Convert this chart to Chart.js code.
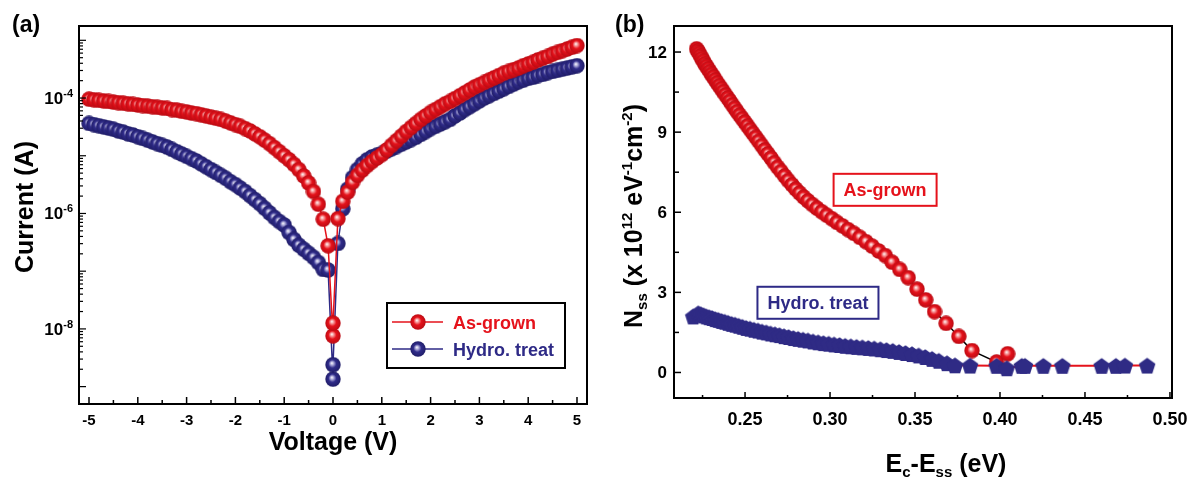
<!DOCTYPE html>
<html>
<head>
<meta charset="utf-8">
<script src="https://cdn.jsdelivr.net/npm/chart.js@4.4.0/dist/chart.umd.min.js"></script>
<style>
  html, body { margin: 0; padding: 0; background: #fff; }
  #wrap { position: relative; width: 1197px; height: 484px; }
  #left { position: absolute; left: 0; top: 0; }
  #right { position: absolute; left: 600px; top: 0; }
</style>
</head>
<body>
<div id="wrap">
  <canvas id="left" width="600" height="484"></canvas>
  <canvas id="right" width="597" height="484"></canvas>
</div>
<script>
// ---- (a) I-V data (log10 of current) ----
var voltage = [
  -5.0, -4.9, -4.8, -4.7, -4.6, -4.5, -4.4, -4.3, -4.2, -4.1,
  -4.0, -3.9, -3.8, -3.7, -3.6, -3.5, -3.4, -3.3, -3.2, -3.1,
  -3.0, -2.9, -2.8, -2.7, -2.6, -2.5, -2.4, -2.3, -2.2, -2.1,
  -2.0, -1.9, -1.8, -1.7, -1.6, -1.5, -1.4, -1.3, -1.2, -1.1,
  -1.0, -0.9, -0.8, -0.7, -0.6, -0.5, -0.4, -0.3, -0.2, -0.1,
  0.0, 0.0,
  0.1, 0.2, 0.3, 0.4, 0.5, 0.6, 0.7, 0.8, 0.9, 1.0,
  1.1, 1.2, 1.3, 1.4, 1.5, 1.6, 1.7, 1.8, 1.9, 2.0,
  2.1, 2.2, 2.3, 2.4, 2.5, 2.6, 2.7, 2.8, 2.9, 3.0,
  3.1, 3.2, 3.3, 3.4, 3.5, 3.6, 3.7, 3.8, 3.9, 4.0,
  4.1, 4.2, 4.3, 4.4, 4.5, 4.6, 4.7, 4.8, 4.9, 5.0
];
var asGrownLogI = [
  -4.02, -4.03, -4.04, -4.05, -4.06, -4.07, -4.08, -4.09, -4.10, -4.11,
  -4.12, -4.13, -4.14, -4.15, -4.16, -4.17, -4.18, -4.20, -4.21, -4.23,
  -4.24, -4.26, -4.27, -4.29, -4.31, -4.33, -4.35, -4.37, -4.40, -4.43,
  -4.46, -4.49, -4.53, -4.57, -4.62, -4.67, -4.73, -4.79, -4.86, -4.93,
  -5.00, -5.07, -5.15, -5.24, -5.35, -5.47, -5.62, -5.84, -6.10, -6.56,
  -8.12, -7.90,
  -6.09, -5.79, -5.63, -5.46, -5.34, -5.25, -5.17, -5.10, -5.04, -4.98,
  -4.90, -4.82, -4.74, -4.66, -4.58, -4.51, -4.44, -4.37, -4.31, -4.25,
  -4.20, -4.15, -4.10, -4.06, -4.01, -3.96, -3.91, -3.86, -3.81, -3.77,
  -3.73, -3.69, -3.65, -3.61, -3.57, -3.54, -3.51, -3.48, -3.44, -3.41,
  -3.38, -3.34, -3.31, -3.28, -3.24, -3.21, -3.18, -3.15, -3.12, -3.09
];
var hydroLogI = [
  -4.44, -4.46, -4.48, -4.50, -4.52, -4.54, -4.57, -4.59, -4.62, -4.64,
  -4.67, -4.70, -4.73, -4.76, -4.79, -4.82, -4.85, -4.89, -4.93, -4.97,
  -5.01, -5.05, -5.09, -5.14, -5.19, -5.24, -5.29, -5.34, -5.39, -5.45,
  -5.50, -5.56, -5.62, -5.69, -5.76, -5.83, -5.91, -5.99, -6.07, -6.14,
  -6.20, -6.33, -6.45, -6.55, -6.62, -6.69, -6.76, -6.85, -6.97, -6.98,
  -8.87, -8.62,
  -6.52, -5.92, -5.58, -5.38, -5.24, -5.14, -5.07, -5.02, -4.99, -4.96,
  -4.92, -4.88, -4.84, -4.80, -4.76, -4.72, -4.68, -4.63, -4.58, -4.53,
  -4.49, -4.45, -4.41, -4.37, -4.31, -4.26, -4.20, -4.15, -4.10, -4.05,
  -4.00, -3.96, -3.92, -3.88, -3.84, -3.80, -3.76, -3.72, -3.69, -3.66,
  -3.64, -3.61, -3.59, -3.56, -3.54, -3.52, -3.50, -3.48, -3.46, -3.44
];

// ---- (b) Nss vs Ec-Ess ----
var asGrownE = [
  0.2215, 0.2222, 0.2230, 0.2238, 0.2246, 0.2255, 0.2264, 0.2273, 0.2283, 0.2293,
  0.2303, 0.2314, 0.2325, 0.2336, 0.2348, 0.2360, 0.2372, 0.2385, 0.2398, 0.2411,
  0.2425, 0.2439, 0.2453, 0.2468, 0.2483, 0.2498, 0.2514, 0.2530, 0.2546, 0.2563,
  0.2580, 0.2598, 0.2616, 0.2634, 0.2653, 0.2672, 0.2692, 0.2712, 0.2733, 0.2754,
  0.2776, 0.2798, 0.2821, 0.2845, 0.2870, 0.2896, 0.2923, 0.2951, 0.2980, 0.3010,
  0.3041, 0.3073, 0.3106, 0.3140, 0.3175, 0.3211, 0.3248, 0.3286, 0.3325, 0.3365,
  0.3410, 0.3460, 0.3512, 0.3563, 0.3615, 0.3683, 0.3758, 0.3835, 0.3980, 0.4045
];
var asGrownN = [
  12.12, 12.04, 11.95, 11.86, 11.76, 11.66, 11.56, 11.47, 11.37, 11.27,
  11.17, 11.07, 10.96, 10.85, 10.74, 10.63, 10.52, 10.40, 10.28, 10.16,
  10.03, 9.90, 9.77, 9.64, 9.51, 9.38, 9.24, 9.10, 8.96, 8.81,
  8.66, 8.50, 8.34, 8.19, 8.03, 7.86, 7.69, 7.53, 7.36, 7.19,
  7.03, 6.87, 6.72, 6.57, 6.43, 6.29, 6.15, 6.02, 5.89, 5.76,
  5.62, 5.49, 5.35, 5.21, 5.06, 4.90, 4.73, 4.55, 4.38, 4.13,
  3.86, 3.55, 3.12, 2.72, 2.28, 1.84, 1.35, 0.82, 0.39, 0.70
];
var hydroE = [
  0.2195, 0.2225, 0.2240, 0.2256, 0.2272, 0.2289, 0.2306, 0.2324, 0.2342, 0.2361,
  0.2380, 0.2400, 0.2420, 0.2441, 0.2462, 0.2484, 0.2506, 0.2529, 0.2552, 0.2576,
  0.2600, 0.2625, 0.2650, 0.2676, 0.2702, 0.2729, 0.2756, 0.2784, 0.2812, 0.2841,
  0.2870, 0.2900, 0.2930, 0.2961, 0.2992, 0.3024, 0.3056, 0.3089, 0.3122, 0.3156,
  0.3190, 0.3225, 0.3260, 0.3296, 0.3332, 0.3369, 0.3406, 0.3444, 0.3482, 0.3521,
  0.3560, 0.3600, 0.3640, 0.3688, 0.3735, 0.3824, 0.3980, 0.4040, 0.4128, 0.4147,
  0.4255, 0.4367, 0.4598, 0.4682, 0.4735, 0.4866
];
var hydroN = [
  2.10, 2.22, 2.18, 2.14, 2.10, 2.07, 2.04, 2.00, 1.97, 1.93,
  1.90, 1.86, 1.82, 1.79, 1.75, 1.71, 1.67, 1.64, 1.60, 1.57,
  1.53, 1.50, 1.46, 1.43, 1.40, 1.36, 1.33, 1.29, 1.26, 1.23,
  1.20, 1.16, 1.13, 1.10, 1.08, 1.05, 1.03, 1.00, 0.98, 0.96,
  0.94, 0.92, 0.90, 0.87, 0.84, 0.81, 0.77, 0.73, 0.69, 0.64,
  0.58, 0.51, 0.44, 0.35, 0.27, 0.26, 0.25, 0.16, 0.25, 0.25,
  0.25, 0.25, 0.25, 0.25, 0.26, 0.26
];

// ---- ticks ----
var ivTicksX = [-5, -4, -3, -2, -1, 0, 1, 2, 3, 4, 5];
var ivMinorX = [-4.5, -3.5, -2.5, -1.5, -0.5, 0.5, 1.5, 2.5, 3.5, 4.5];
var ivDecades = [1e-9, 1e-8, 1e-7, 1e-6, 1e-5, 1e-4, 1e-3];
var ivLabelDecades = [1e-8, 1e-6, 1e-4];
var ivLabelExp = ['-8', '-6', '-4'];
var nssTicksX = [0.25, 0.30, 0.35, 0.40, 0.45, 0.50];
var nssTickLabelsX = ['0.25', '0.30', '0.35', '0.40', '0.45', '0.50'];
var nssMinorX = [0.225, 0.275, 0.325, 0.375, 0.425, 0.475];
var nssTicksY = [0, 3, 6, 9, 12];
var nssMinorY = [1.5, 4.5, 7.5, 10.5];

var FONT = '"Liberation Sans", Arial, Helvetica, sans-serif';
var RED = '#e5121b';
var NAVY = '#2e2a86';

function sphere(d, light, base, dark) {
  var c = document.createElement('canvas');
  c.width = d; c.height = d;
  var g = c.getContext('2d');
  var r = d / 2;
  var grad = g.createRadialGradient(r * 0.85, r * 0.78, 0, r, r, r);
  grad.addColorStop(0, '#ffffff');
  grad.addColorStop(0.2, light);
  grad.addColorStop(0.5, base);
  grad.addColorStop(1, dark);
  g.fillStyle = grad;
  g.beginPath();
  g.arc(r, r, r - 0.3, 0, Math.PI * 2);
  g.fill();
  return c;
}

function pentagon(d, color) {
  var c = document.createElement('canvas');
  c.width = d; c.height = d;
  var g = c.getContext('2d');
  var r = d / 2, R = r - 0.3;
  g.fillStyle = color;
  g.beginPath();
  for (var i = 0; i < 5; i++) {
    var a = -Math.PI / 2 + i * 2 * Math.PI / 5;
    var px = r + R * Math.cos(a), py = r + 0.9 + R * Math.sin(a);
    if (i === 0) g.moveTo(px, py); else g.lineTo(px, py);
  }
  g.closePath();
  g.fill();
  return c;
}

var redBall = sphere(16, '#f7a3a3', '#e5121b', '#b80a12');
var blueBall = sphere(16, '#b3b1dd', '#302c8a', '#1f1c66');
var bluePent = pentagon(18, '#2f2b85');

// parts: [text, size, dy]
function richText(ctx, parts, x, y, align, angle, color) {
  ctx.save();
  ctx.translate(x, y);
  if (angle) ctx.rotate(angle);
  ctx.fillStyle = color || '#000';
  ctx.textAlign = 'left';
  ctx.textBaseline = 'alphabetic';
  var w = 0;
  parts.forEach(function (p) {
    ctx.font = 'bold ' + p[1] + 'px ' + FONT;
    w += ctx.measureText(p[0]).width;
  });
  var cx = align === 'center' ? -w / 2 : (align === 'right' ? -w : 0);
  parts.forEach(function (p) {
    ctx.font = 'bold ' + p[1] + 'px ' + FONT;
    ctx.fillText(p[0], cx, p[2] || 0);
    cx += ctx.measureText(p[0]).width;
  });
  ctx.restore();
  return w;
}

function tick(ctx, x1, y1, x2, y2) {
  ctx.beginPath();
  ctx.moveTo(x1, y1);
  ctx.lineTo(x2, y2);
  ctx.stroke();
}

var leftDecor = {
  id: 'leftDecor',
  afterDraw: function (chart) {
    var ctx = chart.ctx, a = chart.chartArea;
    var xs = chart.scales.x, ys = chart.scales.y;
    ctx.save();
    ctx.strokeStyle = '#000';
    ctx.lineWidth = 1.5;
    ivTicksX.forEach(function (v) {
      var px = xs.getPixelForValue(v);
      tick(ctx, px, a.bottom, px, a.bottom - 7);
    });
    ivMinorX.forEach(function (v) {
      var px = xs.getPixelForValue(v);
      tick(ctx, px, a.bottom, px, a.bottom - 4);
    });
    ctx.lineWidth = 1.2;
    ivDecades.forEach(function (d) {
      var py = ys.getPixelForValue(d);
      if (py > a.top && py < a.bottom) tick(ctx, a.left, py, a.left + 7, py);
      for (var m = 2; m <= 9; m++) {
        var q = ys.getPixelForValue(d * m);
        if (q > a.top + 1 && q < a.bottom - 1) tick(ctx, a.left, q, a.left + 4, q);
      }
    });
    ctx.lineWidth = 2;
    ctx.strokeRect(a.left, a.top, a.right - a.left, a.bottom - a.top);

    // tick labels
    ctx.fillStyle = '#000';
    ivTicksX.forEach(function (v) {
      richText(ctx, [[String(v), 15]], xs.getPixelForValue(v), 425, 'center');
    });
    ivLabelDecades.forEach(function (d, i) {
      richText(ctx, [['10', 17], [ivLabelExp[i], 11, -7]], a.left - 6, ys.getPixelForValue(d) + 6, 'right');
    });

    // titles
    richText(ctx, [['(a)', 23]], 12, 32, 'left');
    richText(ctx, [['Voltage (V)', 25]], 333, 450, 'center');
    richText(ctx, [['Current (A)', 25]], 33, 207, 'center', -Math.PI / 2);

    // legend
    ctx.lineWidth = 2;
    ctx.strokeStyle = '#000';
    ctx.strokeRect(387, 303, 178, 65);
    var rows = [[322, RED, redBall, 'As-grown'], [349, NAVY, blueBall, 'Hydro. treat']];
    rows.forEach(function (r) {
      ctx.strokeStyle = r[1];
      ctx.lineWidth = 1.5;
      tick(ctx, 392, r[0], 443, r[0]);
      ctx.drawImage(r[2], 418 - r[2].width / 2, r[0] - r[2].height / 2);
      richText(ctx, [[r[3], 18]], 453, r[0] + 6.5, 'left', 0, r[1]);
    });
    ctx.restore();
  }
};

var rightDecor = {
  id: 'rightDecor',
  afterDraw: function (chart) {
    var ctx = chart.ctx, a = chart.chartArea;
    var xs = chart.scales.x, ys = chart.scales.y;
    ctx.save();
    ctx.strokeStyle = '#000';
    ctx.lineWidth = 1.5;
    nssTicksX.forEach(function (v) {
      var px = xs.getPixelForValue(v);
      tick(ctx, px, a.bottom, px, a.bottom - 6);
    });
    nssMinorX.forEach(function (v) {
      var px = xs.getPixelForValue(v);
      tick(ctx, px, a.bottom, px, a.bottom - 3);
    });
    nssTicksY.forEach(function (v) {
      var py = ys.getPixelForValue(v);
      tick(ctx, a.left, py, a.left + 7, py);
    });
    nssMinorY.forEach(function (v) {
      var py = ys.getPixelForValue(v);
      tick(ctx, a.left, py, a.left + 5, py);
    });
    ctx.lineWidth = 2;
    ctx.strokeRect(a.left, a.top, a.right - a.left, a.bottom - a.top);

    nssTicksX.forEach(function (v, i) {
      richText(ctx, [[nssTickLabelsX[i], 18]], xs.getPixelForValue(v), 425, 'center');
    });
    nssTicksY.forEach(function (v) {
      richText(ctx, [[String(v), 17]], a.left - 7, ys.getPixelForValue(v) + 6, 'right');
    });

    richText(ctx, [['(b)', 23]], 15, 32, 'left');
    richText(ctx, [['E', 25], ['c', 15, 5], ['-E', 25], ['ss', 15, 5], [' (eV)', 25]], 346, 472, 'center');
    richText(ctx, [['N', 25], ['ss', 15, 5], [' (x 10', 25], ['12', 15, -10], [' eV', 25],
                   ['-1', 15, -10], ['cm', 25], ['-2', 15, -10], [')', 25]],
             42, 216, 'center', -Math.PI / 2);

    // in-plot labels
    var notes = [[0.3324, 6.84, 'As-grown', RED], [0.2929, 2.61, 'Hydro. treat', NAVY]];
    notes.forEach(function (n) {
      var cx = xs.getPixelForValue(n[0]), cy = ys.getPixelForValue(n[1]);
      ctx.font = 'bold 18px ' + FONT;
      var w = ctx.measureText(n[2]).width + 20;
      ctx.strokeStyle = n[3];
      ctx.lineWidth = 2;
      ctx.strokeRect(cx - w / 2, cy - 16, w, 32);
      richText(ctx, [[n[2], 18]], cx, cy + 6.5, 'center', 0, n[3]);
    });
    ctx.restore();
  }
};

function pairs(xs, ys) {
  return xs.map(function (x, i) { return { x: x, y: ys[i] }; });
}

var ivAsGrown = voltage.map(function (v, i) { return { x: v, y: Math.pow(10, asGrownLogI[i]) }; });
var ivHydro = voltage.map(function (v, i) { return { x: v, y: Math.pow(10, hydroLogI[i]) }; });

new Chart(document.getElementById('left'), {
  type: 'scatter',
  data: {
    datasets: [
      { label: 'As-grown', data: ivAsGrown, showLine: true, borderColor: RED, borderWidth: 1.5,
        pointStyle: redBall, pointRadius: 8, pointHoverRadius: 8, tension: 0, clip: false },
      { label: 'Hydro. treat', data: ivHydro, showLine: true, borderColor: NAVY, borderWidth: 1.5,
        pointStyle: blueBall, pointRadius: 8, pointHoverRadius: 8, tension: 0, clip: false }
    ]
  },
  options: {
    responsive: false,
    animation: false,
    devicePixelRatio: 1,
    events: [],
    layout: { padding: { left: 79, right: 13, top: 26, bottom: 80 } },
    plugins: { legend: { display: false }, tooltip: { enabled: false } },
    scales: {
      x: { type: 'linear', min: -5.205, max: 5.205, display: false },
      y: { type: 'logarithmic', min: 5.0e-10, max: 1.77e-3, display: false }
    }
  },
  plugins: [leftDecor]
});

new Chart(document.getElementById('right'), {
  type: 'scatter',
  data: {
    datasets: [
      { label: 'Hydro. treat', data: pairs(hydroE, hydroN), showLine: true, borderColor: RED, borderWidth: 2,
        pointStyle: bluePent, pointRadius: 9, pointHoverRadius: 9, tension: 0, clip: false },
      { label: 'As-grown', data: pairs(asGrownE, asGrownN), showLine: true, borderColor: '#000', borderWidth: 1.5,
        pointStyle: redBall, pointRadius: 8, pointHoverRadius: 8, tension: 0, clip: false }
    ]
  },
  options: {
    responsive: false,
    animation: false,
    devicePixelRatio: 1,
    events: [],
    layout: { padding: { left: 74, right: 25, top: 26, bottom: 86 } },
    plugins: { legend: { display: false }, tooltip: { enabled: false } },
    scales: {
      x: { type: 'linear', min: 0.2082, max: 0.5012, display: false },
      y: { type: 'linear', min: -0.956, max: 12.975, display: false }
    }
  },
  plugins: [rightDecor]
});
</script>
</body>
</html>
